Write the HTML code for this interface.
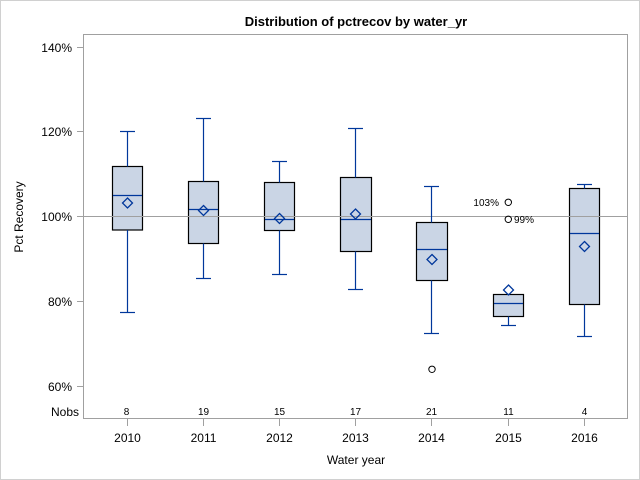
<!DOCTYPE html>
<html>
<head>
<meta charset="utf-8">
<style>
html,body{margin:0;padding:0;background:#fff;}
svg{display:block;}
text{font-family:"Liberation Sans",Arial,sans-serif;fill:#000;}
</style>
</head>
<body>
<svg width="640" height="480" viewBox="0 0 640 480" xmlns="http://www.w3.org/2000/svg">
  <rect x="0.5" y="0.5" width="639" height="479" fill="#fff" stroke="#d0d0d0" stroke-width="1"/>
  <!-- title -->
  <text x="356" y="26" font-size="13" font-weight="bold" text-anchor="middle">Distribution of pctrecov by water_yr</text>

  <!-- plot frame -->
  <rect x="83.5" y="34.5" width="544" height="384" fill="none" stroke="#a0a0a0" stroke-width="1"/>

  <!-- y ticks -->
  <g stroke="#a0a0a0" stroke-width="1">
    <line x1="77" y1="47.5" x2="83" y2="47.5"/>
    <line x1="77" y1="131.5" x2="83" y2="131.5"/>
    <line x1="77" y1="216.5" x2="83" y2="216.5"/>
    <line x1="77" y1="301.5" x2="83" y2="301.5"/>
    <line x1="77" y1="386.5" x2="83" y2="386.5"/>
  </g>
  <g font-size="12" text-anchor="end">
    <text x="72" y="52">140%</text>
    <text x="72" y="136">120%</text>
    <text x="72" y="221">100%</text>
    <text x="72" y="306">80%</text>
    <text x="72" y="391">60%</text>
    <text x="79" y="416">Nobs</text>
  </g>
  <text transform="translate(23,217) rotate(-90)" font-size="12" text-anchor="middle">Pct Recovery</text>

  <!-- x ticks -->
  <g stroke="#a0a0a0" stroke-width="1">
    <line x1="127.5" y1="419" x2="127.5" y2="426"/>
    <line x1="203.5" y1="419" x2="203.5" y2="426"/>
    <line x1="279.5" y1="419" x2="279.5" y2="426"/>
    <line x1="355.5" y1="419" x2="355.5" y2="426"/>
    <line x1="431.5" y1="419" x2="431.5" y2="426"/>
    <line x1="508.5" y1="419" x2="508.5" y2="426"/>
    <line x1="584.5" y1="419" x2="584.5" y2="426"/>
  </g>
  <g font-size="12" text-anchor="middle">
    <text x="127.5" y="442">2010</text>
    <text x="203.5" y="442">2011</text>
    <text x="279.5" y="442">2012</text>
    <text x="355.5" y="442">2013</text>
    <text x="431.5" y="442">2014</text>
    <text x="508.5" y="442">2015</text>
    <text x="584.5" y="442">2016</text>
    <text x="356" y="464">Water year</text>
  </g>
  <g font-size="10" text-anchor="middle">
    <text x="126.5" y="415">8</text>
    <text x="203.5" y="415">19</text>
    <text x="279.5" y="415">15</text>
    <text x="355.5" y="415">17</text>
    <text x="431.5" y="415">21</text>
    <text x="508.5" y="415">11</text>
    <text x="584.5" y="415">4</text>
  </g>

  <!-- boxes -->
  <g fill="#cad5e5" stroke="#000" stroke-width="1.2">
    <rect x="112.5" y="166.5" width="30" height="63.5"/>
    <rect x="188.5" y="181.5" width="30" height="62"/>
    <rect x="264.5" y="182.5" width="30" height="48"/>
    <rect x="340.5" y="177.5" width="31" height="74"/>
    <rect x="416.5" y="222.5" width="31" height="58"/>
    <rect x="493.5" y="294.5" width="30" height="22"/>
    <rect x="569.5" y="188.5" width="30" height="116"/>
  </g>

  <!-- reference line -->
  <line x1="84" y1="216.5" x2="627" y2="216.5" stroke="#a0a0a0" stroke-width="1"/>

  <!-- whiskers, medians, means -->
  <g stroke="#00379b" stroke-width="1.2" fill="none">
    <!-- 2010 -->
    <line x1="127.5" y1="131.5" x2="127.5" y2="166.5"/>
    <line x1="120" y1="131.5" x2="135" y2="131.5"/>
    <line x1="127.5" y1="230" x2="127.5" y2="312.5"/>
    <line x1="120" y1="312.5" x2="135" y2="312.5"/>
    <line x1="113" y1="195.5" x2="142" y2="195.5"/>
    <!-- 2011 -->
    <line x1="203.5" y1="118.5" x2="203.5" y2="181.5"/>
    <line x1="196" y1="118.5" x2="211" y2="118.5"/>
    <line x1="203.5" y1="243.5" x2="203.5" y2="278.5"/>
    <line x1="196" y1="278.5" x2="211" y2="278.5"/>
    <line x1="189" y1="209.5" x2="218" y2="209.5"/>
    <!-- 2012 -->
    <line x1="279.5" y1="161.5" x2="279.5" y2="182.5"/>
    <line x1="272" y1="161.5" x2="287" y2="161.5"/>
    <line x1="279.5" y1="230.5" x2="279.5" y2="274.5"/>
    <line x1="272" y1="274.5" x2="287" y2="274.5"/>
    <line x1="265" y1="219.5" x2="294" y2="219.5"/>
    <!-- 2013 -->
    <line x1="355.5" y1="128.5" x2="355.5" y2="177.5"/>
    <line x1="348" y1="128.5" x2="363" y2="128.5"/>
    <line x1="355.5" y1="251.5" x2="355.5" y2="289.5"/>
    <line x1="348" y1="289.5" x2="363" y2="289.5"/>
    <line x1="341" y1="219.5" x2="371" y2="219.5"/>
    <!-- 2014 -->
    <line x1="431.5" y1="186.5" x2="431.5" y2="222.5"/>
    <line x1="424" y1="186.5" x2="439" y2="186.5"/>
    <line x1="431.5" y1="280.5" x2="431.5" y2="333.5"/>
    <line x1="424" y1="333.5" x2="439" y2="333.5"/>
    <line x1="417" y1="249.5" x2="447" y2="249.5"/>
    <!-- 2015 -->
    <line x1="508.5" y1="316.5" x2="508.5" y2="325.5"/>
    <line x1="501" y1="325.5" x2="516" y2="325.5"/>
    <line x1="494" y1="303.5" x2="523" y2="303.5"/>
    <!-- 2016 -->
    <line x1="584.5" y1="184.5" x2="584.5" y2="188.5"/>
    <line x1="577" y1="184.5" x2="592" y2="184.5"/>
    <line x1="584.5" y1="304.5" x2="584.5" y2="336.5"/>
    <line x1="577" y1="336.5" x2="592" y2="336.5"/>
    <line x1="570" y1="233.5" x2="599" y2="233.5"/>
  </g>
  <!-- means (diamonds) -->
  <g stroke="#00379b" stroke-width="1.3" fill="none">
    <path d="M127.5,198 L132.5,203 L127.5,208 L122.5,203 Z"/>
    <path d="M203.5,205.5 L208.5,210.5 L203.5,215.5 L198.5,210.5 Z"/>
    <path d="M279.5,213.5 L284.5,218.5 L279.5,223.5 L274.5,218.5 Z"/>
    <path d="M355.5,209 L360.5,214 L355.5,219 L350.5,214 Z"/>
    <path d="M432,254.5 L437,259.5 L432,264.5 L427,259.5 Z"/>
    <path d="M508.5,285 L513.5,290 L508.5,295 L503.5,290 Z"/>
    <path d="M584.5,241.5 L589.5,246.5 L584.5,251.5 L579.5,246.5 Z"/>
  </g>
  <!-- outliers -->
  <g stroke="#000" stroke-width="1" fill="none">
    <circle cx="432" cy="369.3" r="3.2"/>
    <circle cx="508.3" cy="202.3" r="3.2"/>
    <circle cx="508.3" cy="219.3" r="3.2"/>
  </g>
  <g font-size="10">
    <text x="499" y="206" text-anchor="end">103%</text>
    <text x="514" y="223">99%</text>
  </g>
</svg>
</body>
</html>
